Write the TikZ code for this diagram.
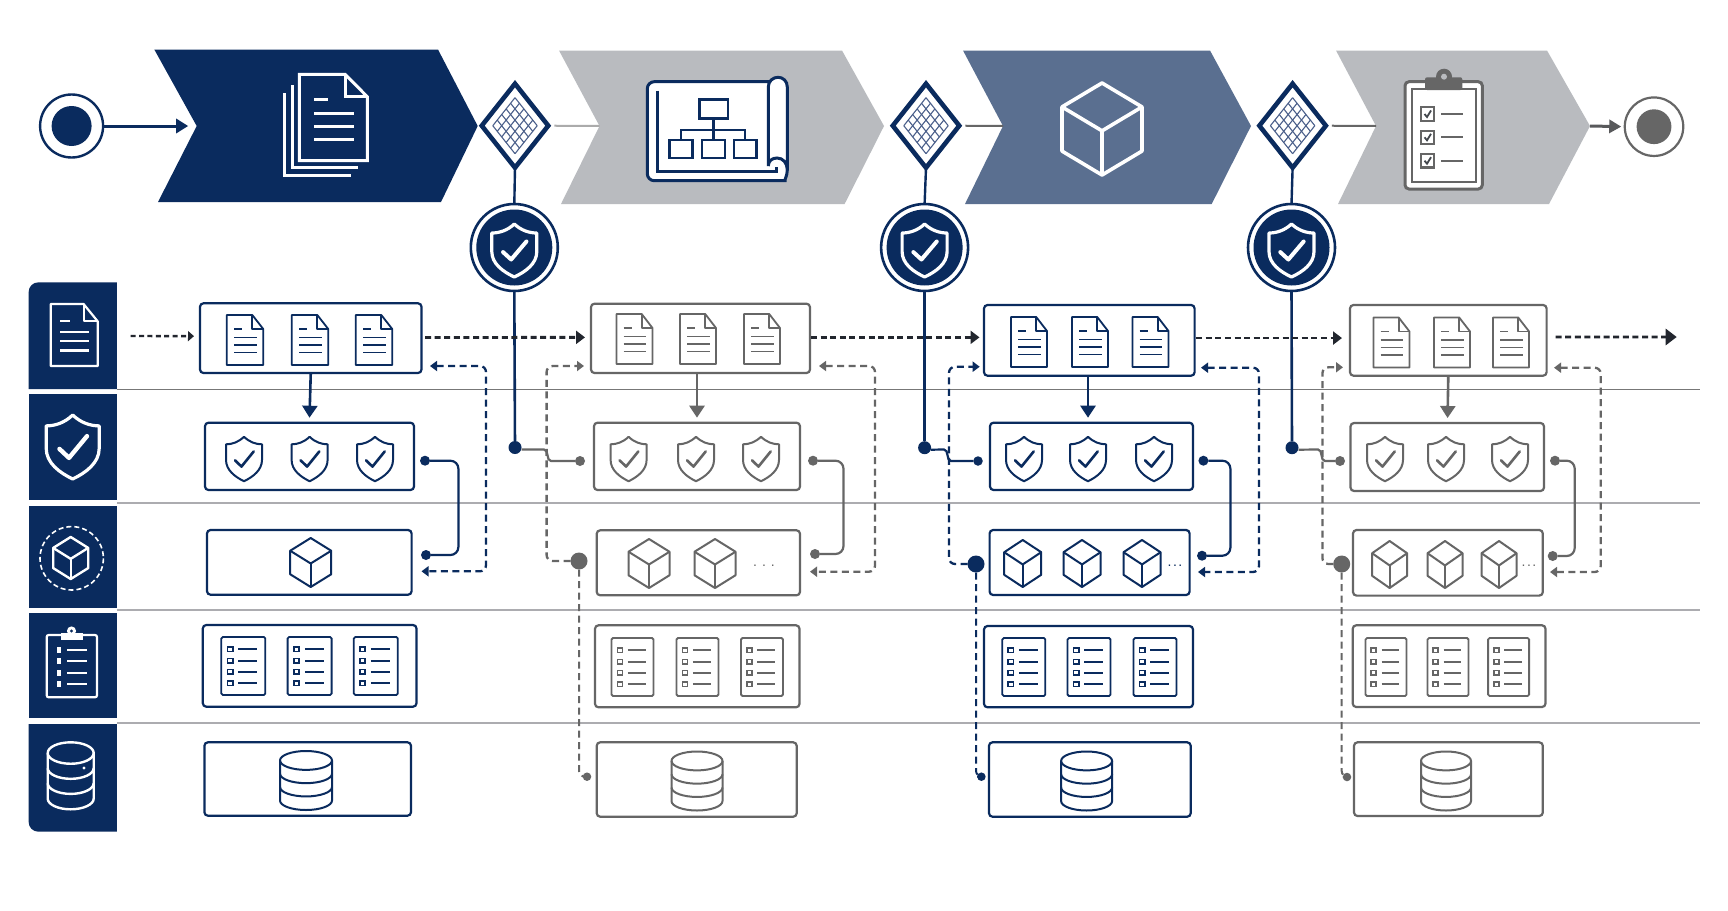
\documentclass[tikz,border=0pt]{standalone}
\usepackage{fontspec}
\setmainfont{Liberation Sans}
\usetikzlibrary{arrows.meta,shapes.geometric}
\definecolor{nv}{HTML}{0A2B5E}
\definecolor{gy}{HTML}{666666}
\definecolor{chgy}{HTML}{B9BBBF}
\definecolor{slate}{HTML}{5A6F90}
\definecolor{ink}{HTML}{22262E}
\definecolor{hatch}{HTML}{4A5F8A}
\definecolor{laneA}{HTML}{777777}
\definecolor{laneB}{HTML}{ACACB0}
\tikzset{
  box/.style={draw,fill=white,line width=2.2pt,rounded corners=3.5pt,inner sep=0pt,outer sep=0pt},
  nbox/.style={box,draw=nv},
  gbox/.style={box,draw=gy},
  flowline/.style={draw=ink,line width=2.8pt,dash pattern=on 6pt off 3.6pt,-{Triangle[length=9pt,width=13pt]}},
  drop/.style={line width=2.6pt,-{Triangle[length=12pt,width=15pt]}},
  fb/.style={line width=2.3pt,dash pattern=on 7pt off 4.5pt,rounded corners=6pt,{Triangle[length=7pt,width=10pt]}-{Triangle[length=7pt,width=10pt]}},
  fbone/.style={line width=2.3pt,dash pattern=on 7pt off 4.5pt,rounded corners=6pt,-{Triangle[length=7pt,width=10pt]}},
  fbtail/.style={line width=2pt,dash pattern=on 7pt off 4.5pt,rounded corners=6pt},
  linkline/.style={line width=2.2pt,rounded corners=8pt},
  dotn/.style={circle,fill=nv,inner sep=0pt,outer sep=0pt},
  dotg/.style={circle,fill=gy,inner sep=0pt,outer sep=0pt},
  gate/.style={diamond,draw=nv,fill=white,line width=4.6pt,inner sep=0pt,outer sep=0pt,minimum width=66.5pt,minimum height=84pt},
  guard/.style={circle,draw=nv,fill=white,line width=2.6pt,inner sep=0pt,outer sep=0pt,minimum size=87pt},
  orgbox/.style={draw=nv,fill=white,line width=2.4pt,inner sep=0pt,outer sep=0pt},
  laneline/.style={line width=1.6pt},
  more/.style={anchor=base,inner sep=0pt,font=\fontsize{14pt}{14pt}\selectfont},
}
\newcommand\Bx[6]{%
  \pgfmathsetmacro\bxw{#4-#2}\pgfmathsetmacro\bxh{#5-#3}%
  \pgfmathsetmacro\bxc{(#4+#2)/2}\pgfmathsetmacro\bxd{(#5+#3)/2}%
  \node[#6,minimum width=\bxw pt,minimum height=\bxh pt] (#1) at (\bxc,\bxd) {};}
% cx cy w h colour linewidth fill
\newcommand\IcDoc[7]{\begin{scope}[shift={(#1,#2)},x=#3pt,y=-#4pt,draw=#5,line width=#6pt,line join=round]
  \filldraw[fill=#7] (-.5,-.5) -- (.2,-.5) -- (.5,-.22) -- (.5,.5) -- (-.5,.5) -- cycle;
  \draw (.2,-.5) -- (.2,-.22) -- (.5,-.22);
  \draw (-.3,-.22) -- (-.08,-.22);
  \draw (-.3,-.05) -- (.32,-.05);
  \draw (-.3,.1) -- (.32,.1);
  \draw (-.3,.25) -- (.32,.25);
\end{scope}}
\newcommand\IcShield[8]{\begin{scope}[shift={(#1,#2)},x=#3pt,y=-#4pt,line join=round]
  \draw[draw=#5,fill=#8,line width=#6pt] (0,-.5) .. controls (.15,-.38) and (.33,-.33) .. (.5,-.33) -- (.5,.02) .. controls (.5,.25) and (.25,.4) .. (0,.5) .. controls (-.25,.4) and (-.5,.25) .. (-.5,.02) -- (-.5,-.33) .. controls (-.33,-.33) and (-.15,-.38) .. (0,-.5) -- cycle;
  \draw[draw=#5,line width=#7pt,line cap=round] (-.25,.03) -- (-.07,.17) -- (.27,-.17);
\end{scope}}
\newcommand\IcCube[6]{\begin{scope}[shift={(#1,#2)},x=#3pt,y=-#4pt,draw=#5,line width=#6pt,line join=round]
  \draw (0,-.5) -- (.5,-.24) -- (.5,.24) -- (0,.5) -- (-.5,.24) -- (-.5,-.24) -- cycle;
  \draw (-.5,-.24) -- (0,.02) -- (.5,-.24);
  \draw (0,.02) -- (0,.5);
\end{scope}}
\newcommand\ListRow[2]{\draw[line width=1.7pt] (-.36,#1-.04) rectangle (-.24,#1+.04);
  \draw[line width=#2pt] (-.11,#1) -- (.32,#1);}
\newcommand\IcList[6]{\begin{scope}[shift={(#1,#2)},x=#3pt,y=-#4pt,draw=#5,line width=#6pt]
  \filldraw[fill=white,rounded corners=1.5pt] (-.5,-.5) rectangle (.5,.5);
  \ListRow{-.29}{#6}\ListRow{-.09}{#6}\ListRow{.1}{#6}\ListRow{.295}{#6}
\end{scope}}
\newcommand\DbArc[1]{\draw (-.5,#1) .. controls (-.5,#1+.088) and (-.276,#1+.16) .. (0,#1+.16) .. controls (.276,#1+.16) and (.5,#1+.088) .. (.5,#1);}
\newcommand\IcDb[7]{\begin{scope}[shift={(#1,#2)},x=#3pt,y=-#4pt,draw=#5,line width=#6pt]
  \filldraw[fill=#7] (-.5,-.34) -- (-.5,.34) .. controls (-.5,.428) and (-.276,.5) .. (0,.5) .. controls (.276,.5) and (.5,.428) .. (.5,.34) -- (.5,-.34) .. controls (.5,-.428) and (.276,-.5) .. (0,-.5) .. controls (-.276,-.5) and (-.5,-.428) .. (-.5,-.34) -- cycle;
  \DbArc{-.34}\DbArc{-.115}\DbArc{.11}
\end{scope}}
\newcommand\Chev[9]{\fill[#1] (#2,#8) -- (#3,#8) -- (#4,126) -- (#5,#9) -- (#6,#9) -- (#7,126) -- cycle;}
\newcommand\Hatch[2]{\begin{scope}[shift={(#1,#2)},draw=hatch,line width=1.1pt]
  \foreach \i in {0,...,5}{
    \draw ({-22.2+\i/5*22.2},{-\i/5*28}) -- ({\i/5*22.2},{28-\i/5*28});
    \draw ({-22.2+\i/5*22.2},{\i/5*28}) -- ({\i/5*22.2},{-28+\i/5*28});
  }
\end{scope}}
\begin{document}
\begin{tikzpicture}[x=1pt,y=-1pt]
\useasboundingbox (0,0) rectangle (1728,910);
\fill[white] (0,0) rectangle (1728,910);
% lane rules
\draw[laneline,draw=laneA] (117,389.5) -- (1700,389.5);
\draw[laneline,draw=laneB] (117,503) -- (1700,503);
\draw[laneline,draw=laneB] (117,610) -- (1700,610);
\draw[laneline,draw=laneB] (117,723) -- (1700,723);
% lane headers
\fill[nv] (28.6,389) -- (28.6,292.3) .. controls (28.6,286.5) and (33,282.3) .. (38.6,282.3) -- (116.8,282.3) -- (116.8,389) -- cycle;
\fill[nv] (28.6,394) rectangle (116.8,500);
\fill[nv] (28.6,505.7) rectangle (116.8,607.7);
\fill[nv] (28.6,613) rectangle (116.8,718);
\fill[nv] (28.6,724) -- (28.6,821.7) .. controls (28.6,827.5) and (33,831.7) .. (38.6,831.7) -- (116.8,831.7) -- (116.8,724) -- cycle;
% lane icons
\IcDoc{74.2}{335}{47}{62}{white}{2.2}{nv}
\IcShield{72.7}{447}{53}{64}{white}{3.2}{4.4}{nv}
\draw[white,line width=1.6pt,dash pattern=on 5pt off 3pt] (71.7,558.3) circle[radius=31.7];
\IcCube{70.7}{558}{35}{42}{white}{2.4}
\begin{scope}[white]
  \draw[line width=2.2pt,rounded corners=2pt] (46.7,635) rectangle (97,697.3);
  \fill (60.7,633) rectangle (82.7,639.5);
  \fill (71.5,631) circle[radius=4.6];
  \fill[nv] (71.5,631) circle[radius=1.6];
  \foreach \yy in {650,661,672.7,684}{
    \fill (56.5,\yy-2.8) rectangle (61,\yy+2.8);
    \draw[line width=2pt] (67,\yy) -- (87,\yy);
  }
\end{scope}
\IcDb{70.7}{775.8}{46}{67}{white}{2.4}{nv}
\fill[white] (84,768) circle[radius=1.6];
% chevrons
\Chev{nv}{154.3}{438}{477.7}{441}{158}{196.7}{49.5}{202}
\Chev{chgy}{559}{842}{884}{844.6}{561}{599.5}{50.5}{204}
\Chev{slate}{963}{1210}{1251}{1211.7}{965}{1003}{50.5}{204}
\Chev{chgy}{1336}{1547}{1590}{1549}{1338}{1376}{50.5}{204}
\coordinate (ch1n) at (196.7,126); \coordinate (ch2n) at (599.5,126);
\coordinate (ch3n) at (1003,126); \coordinate (ch4n) at (1376,126);
\coordinate (ch4t) at (1590,126);
% big doc icon
\begin{scope}[white,line width=3pt,line join=miter]
  \draw (284,93.3) -- (284,175.3) -- (350.7,175.3);
  \draw (292,85) -- (292,167.3) -- (358.3,167.3);
  \filldraw[fill=nv] (299.3,74.3) -- (345,74.3) -- (367.3,96.7) -- (367.3,160.7) -- (299.3,160.7) -- cycle;
  \draw (345,74.3) -- (345,96.7) -- (367.3,96.7);
  \draw (314,99.3) -- (327.7,99.3);
  \draw (314,113.7) -- (353.7,113.7);
  \draw (314,126.3) -- (353.7,126.3);
  \draw (314,139.7) -- (353.7,139.7);
\end{scope}
% blueprint icon
\fill[white,rounded corners=6pt] (647.3,81.7) rectangle (787.3,180.7);
\fill[white] (777.8,87) circle[radius=9.5];
\draw[nv,line width=3pt,rounded corners=7pt] (770,81.7) -- (647.3,81.7) -- (647.3,180.7) -- (778,180.7) [sharp corners] .. controls (784,180.7) and (787.3,176) .. (787.3,170) -- (787.3,87) .. controls (787.3,81) and (783,77.3) .. (778,77.3) .. controls (773,77.3) and (768.3,81) .. (768.3,87) -- (768.3,166) .. controls (768.3,161) and (772,158) .. (777,158) .. controls (783,158) and (787.3,163) .. (787.3,170);
\draw[nv,line width=2.6pt] (657.7,90.7) -- (657.7,171.7) -- (776.7,171.7) -- (776.7,167);
\node[orgbox,minimum width=28.4pt,minimum height=19pt] (orgtop) at (713.5,108.8) {};
\node[orgbox,minimum width=23pt,minimum height=17.7pt] (orgl) at (680.8,148.9) {};
\node[orgbox,minimum width=23.3pt,minimum height=17.7pt] (orgm) at (713.5,148.9) {};
\node[orgbox,minimum width=22.7pt,minimum height=17.7pt] (orgr) at (745.3,148.9) {};
\coordinate (orgbar) at (713.5,130);
\draw[nv,line width=2.2pt] (orgtop.south) -- (orgm.north);
\draw[nv,line width=2.2pt] (orgl.north) |- (orgbar) -| (orgr.north);
% big cube
\IcCube{1102}{129}{80}{92}{white}{3.6}
% big clipboard
\filldraw[draw=gy,fill=white,line width=3pt,rounded corners=4pt] (1405,81.7) rectangle (1482.3,189);
\draw[gy,line width=2pt] (1411.7,89.3) rectangle (1476,181.7);
\fill[gy] (1444,76.7) circle[radius=8];
\fill[gy,rounded corners=2pt] (1425,77.3) rectangle (1462.3,90);
\fill[chgy] (1444,76.7) circle[radius=3];
\foreach \yy in {114,137.3,160.7}{
  \draw[gy,line width=2.2pt] (1421,\yy-6.7) rectangle (1434.3,\yy+6.7);
  \draw[ink!85,line width=1.8pt] (1424.5,\yy) -- (1427,\yy+3) -- (1431,\yy-3.5);
  \draw[gy,line width=2.2pt] (1441,\yy) -- (1463.3,\yy);
}
% start / end events
\node[circle,draw=nv,fill=white,line width=2.4pt,inner sep=0pt,outer sep=0pt,minimum size=63pt] (start) at (71.6,126) {};
\fill[nv] (start.center) circle[radius=20];
\node[circle,draw=gy,fill=white,line width=2.2pt,inner sep=0pt,outer sep=0pt,minimum size=58.5pt] (finish) at (1654,126.7) {};
\fill[gy] (finish.center) circle[radius=17.4];
\draw[nv,line width=3pt,shorten >=8.5pt,-{Triangle[length=12pt,width=14pt]}] (start.east) -- (ch1n);
\draw[gy!80!ink,line width=3pt,shorten >=3.5pt,-{Triangle[length=12pt,width=13pt]}] (ch4t) -- (finish.west);
% gateways
\node[gate] (gw1) at (515,125.7) {};
\node[gate] (gw2) at (926,125.7) {};
\node[gate] (gw3) at (1292.6,125.7) {};
\Hatch{515}{125.7}\Hatch{926}{125.7}\Hatch{1292.6}{125.7}
\draw[gy!55,line width=2pt,shorten <=6pt] (gw1.east) -- (ch2n);
\draw[gy,line width=2pt,shorten <=6pt] (gw2.east) -- (ch3n);
\draw[gy,line width=2pt,shorten <=6pt] (gw3.east) -- (ch4n);
% guards
\node[guard] (gd1) at (514.3,247.5) {};
\node[guard] (gd2) at (924.6,247.5) {};
\node[guard] (gd3) at (1291.5,247.5) {};
\foreach \cc in {gd1,gd2,gd3}{\fill[nv] (\cc.center) circle[radius=38];}
\IcShield{514.3}{250.5}{45}{53}{white}{3.2}{4}{nv}
\IcShield{924.6}{250.5}{45}{53}{white}{3.2}{4}{nv}
\IcShield{1291.5}{250.5}{45}{53}{white}{3.2}{4}{nv}
\draw[nv,line width=2.4pt] (gw1.south) -- (gd1.north);
\draw[nv,line width=2.4pt] (gw2.south) -- (gd2.north);
\draw[nv,line width=2.4pt] (gw3.south) -- (gd3.north);
% boxes column 1
\Bx{aa}{200}{303.3}{421.5}{373}{nbox}
\Bx{ab}{205}{422.7}{414}{490}{nbox}
\Bx{ac}{207}{530}{411.6}{594.7}{nbox}
\Bx{ad}{202.8}{625}{416.5}{706.7}{nbox}
\Bx{ae}{204.4}{742.3}{411}{815.7}{nbox}
% column 2
\Bx{ba}{591}{303.7}{810}{373}{gbox}
\Bx{bb}{594}{422.7}{800}{490}{gbox}
\Bx{bc}{596.7}{530.3}{800}{595.3}{gbox}
\Bx{bd}{595}{625.3}{799.5}{707.3}{gbox}
\Bx{be}{596.7}{742.3}{796.7}{816.7}{gbox}
% column 3
\Bx{ca}{984}{305}{1194.6}{375.7}{nbox}
\Bx{cb}{990}{422.7}{1193}{490}{nbox}
\Bx{cc}{989.6}{530}{1189.6}{595}{nbox}
\Bx{cd}{984}{626}{1193}{707.3}{nbox}
\Bx{ce}{989}{742.3}{1190.7}{816.7}{nbox}
% column 4
\Bx{da}{1350}{305}{1546.6}{375.7}{gbox}
\Bx{db}{1350.5}{423}{1544}{491}{gbox}
\Bx{dc}{1353}{530}{1542.8}{595.6}{gbox}
\Bx{dd}{1352.7}{625.3}{1545.5}{707}{gbox}
\Bx{de}{1354}{742.3}{1542.8}{816}{gbox}
% icons row 1
\foreach \xx in {245,310,374}{\IcDoc{\xx}{340}{36.5}{50}{nv}{1.8}{white}}
\foreach \xx in {634.5,698,762}{\IcDoc{\xx}{339}{36}{50}{gy}{1.8}{white}}
\foreach \xx in {1029,1090,1150.5}{\IcDoc{\xx}{342}{36}{50}{nv}{1.8}{white}}
\foreach \xx in {1391.5,1452,1511}{\IcDoc{\xx}{342.5}{36}{50}{gy}{1.8}{white}}
% icons row 2
\foreach \xx in {244,309.6,375}{\IcShield{\xx}{459}{36}{44.5}{nv}{2}{2.6}{white}}
\foreach \xx in {628.6,696,761}{\IcShield{\xx}{459}{36}{44.5}{gy}{2}{2.6}{white}}
\foreach \xx in {1024,1088,1154}{\IcShield{\xx}{459}{36}{44.5}{nv}{2}{2.6}{white}}
\foreach \xx in {1385,1446,1510}{\IcShield{\xx}{459}{36}{44.5}{gy}{2}{2.6}{white}}
% icons row 3
\IcCube{310.7}{562.5}{41}{49}{nv}{2}
\foreach \xx in {649,715}{\IcCube{\xx}{563.5}{41}{49}{gy}{2}}
\foreach \xx in {1022.7,1082,1142}{\IcCube{\xx}{563.5}{37}{47}{nv}{2}}
\foreach \xx in {1389.6,1445,1499}{\IcCube{\xx}{564.5}{35}{47}{gy}{2}}
\node[more,text=gy] (moreb) at (764,566) {.\hspace{5pt}.\hspace{5pt}.};
\node[more,text=nv] (morec) at (1175,566) {.\hspace{1.5pt}.\hspace{1.5pt}.};
\node[more,text=gy] (mored) at (1529,566) {.\hspace{1.5pt}.\hspace{1.5pt}.};
% icons row 4
\foreach \xx in {243.3,309.6,375.8}{\IcList{\xx}{666}{44}{58}{nv}{1.8}}
\foreach \xx in {632.5,697.5,762}{\IcList{\xx}{667}{42}{58}{gy}{1.8}}
\foreach \xx in {1023.8,1089,1155}{\IcList{\xx}{667}{43}{58}{nv}{1.8}}
\foreach \xx in {1386,1448,1508.6}{\IcList{\xx}{667}{41}{58}{gy}{1.8}}
% icons row 5
\IcDb{306}{780.5}{52}{59}{nv}{2}{white}
\IcDb{697}{781}{51}{59}{gy}{2}{white}
\IcDb{1086.6}{781}{51}{59}{nv}{2}{white}
\IcDb{1446}{781}{50}{59}{gy}{2}{white}
% junction dots
\node[dotn,minimum size=13pt] (ja) at (515,447.5) {};
\node[dotn,minimum size=13pt] (jb) at (924.6,447.7) {};
\node[dotn,minimum size=13pt] (jc) at (1292,447.7) {};
\node[dotg,minimum size=10pt] (pb) at (580,461) {};
\node[dotn,minimum size=9.5pt] (pc) at (978,461) {};
\node[dotg,minimum size=10pt] (pd) at (1340,461) {};
\node[dotn,minimum size=10pt] (sa1) at (425,460.7) {};
\node[dotn,minimum size=10pt] (sa2) at (426,555) {};
\node[dotg,minimum size=10pt] (sb1) at (813,460.7) {};
\node[dotg,minimum size=10pt] (sb2) at (815,554) {};
\node[dotn,minimum size=10pt] (sc1) at (1203.4,460.7) {};
\node[dotn,minimum size=10pt] (sc2) at (1202,555.7) {};
\node[dotg,minimum size=10pt] (sd1) at (1555,460.7) {};
\node[dotg,minimum size=10pt] (sd2) at (1552.7,556) {};
\node[dotg,minimum size=17pt] (bb1) at (579,561) {};
\node[dotn,minimum size=17pt] (bc1) at (976,564) {};
\node[dotg,minimum size=17pt] (bd1) at (1341.7,564) {};
\node[dotg,minimum size=8.5pt] (eb) at (587,776.7) {};
\node[dotn,minimum size=8.5pt] (ec) at (981.4,776.7) {};
\node[dotg,minimum size=8.5pt] (ed) at (1347,777) {};
% guard stems
\draw[nv,line width=2.6pt] (gd1.south) -- (ja);
\draw[nv,line width=2.6pt] (gd2.south) -- (jb);
\draw[nv,line width=2.6pt] (gd3.south) -- (jc);
% junction to row 2
\draw[gy,line width=2.2pt] ([yshift=-2pt]ja.east) -- (544,449.5) .. controls (549,449.5) and (546,461) .. (551,461) -- (pb);
\draw[nv,line width=2.2pt] ([yshift=-2pt]jb.east) -- (944,449.5) .. controls (949,449.5) and (946,461) .. (951,461) -- (pc);
\draw[gy,line width=2.2pt] ([yshift=-2pt]jc.east) -- (1318,449.5) .. controls (1323,449.5) and (1320,461) .. (1325,461) -- (pd);
% row 1 flow
\coordinate (inlet) at (130.6,336);
\coordinate (outlet) at (1676.7,337);
\draw[ink,line width=2.4pt,dash pattern=on 5pt off 3.4pt,-{Triangle[length=6pt,width=10pt]},shorten >=6pt] (inlet) -- ([yshift=2pt]aa.west);
\draw[flowline,shorten <=3.5pt,shorten >=6pt] ([yshift=.7pt]aa.east) -- ([yshift=1pt]ba.west);
\draw[flowline,shorten <=1pt,shorten >=4.5pt] ([yshift=1pt]ba.east) -- ([yshift=3pt]ca.west);
\draw[flowline,shorten <=1.5pt,shorten >=8pt] ([yshift=2.3pt]ca.east) -- ([yshift=2.3pt]da.west);
\draw[flowline,shorten <=9pt,-{Triangle[length=11pt,width=16pt]}] ([yshift=3.3pt]da.east) -- (outlet);
% row 1 to row 2
\draw[nv,drop] (aa.south) -- ([yshift=5pt]ab.north);
\draw[gy,drop] ([xshift=-3.5pt]ba.south) -- ([xshift=0pt,yshift=5pt]bb.north);
\draw[nv,drop] ([xshift=-1.3pt]ca.south) -- ([xshift=-3.5pt,yshift=5pt]cb.north);
\draw[gy,drop] (da.south) -- ([xshift=.3pt,yshift=5pt]db.north);
% row 2 to row 3 solid links
\coordinate (ra) at (458.4,500); \coordinate (rb) at (843.5,500);
\coordinate (rc) at (1230.4,500); \coordinate (rd) at (1574.7,500);
\draw[nv,linkline] (sa1) -- (sa1 -| ra) -- (sa2 -| ra) -- (sa2);
\draw[gy,linkline] (sb1) -- (sb1 -| rb) -- (sb2 -| rb) -- (sb2);
\draw[nv,linkline] (sc1) -- (sc1 -| rc) -- (sc2 -| rc) -- (sc2);
\draw[gy,linkline] (sd1) -- (sd1 -| rd) -- (sd2 -| rd) -- (sd2);
% feedback right
\coordinate (fa1) at (430,366); \coordinate (fa2) at (486,366); \coordinate (fa3) at (421.5,571.3);
\coordinate (fb1) at (819,366); \coordinate (fb2) at (875,366); \coordinate (fb3) at (810,571.7);
\coordinate (fc1) at (1201,367.7); \coordinate (fc2) at (1259,367.7); \coordinate (fc3) at (1198,572);
\coordinate (fd1) at (1554,367.7); \coordinate (fd2) at (1600.7,367.7); \coordinate (fd3) at (1550,572);
\draw[nv,fb] (fa1) -- (fa2) -- (fa2 |- fa3) -- (fa3);
\draw[gy,fb] (fb1) -- (fb2) -- (fb2 |- fb3) -- (fb3);
\draw[nv,fb] (fc1) -- (fc2) -- (fc2 |- fc3) -- (fc3);
\draw[gy,fb] (fd1) -- (fd2) -- (fd2 |- fd3) -- (fd3);
% feedback left
\coordinate (lb) at (546.6,366); \coordinate (lbt) at (584,366);
\coordinate (lc) at (949,366.7); \coordinate (lct) at (979.7,366.7);
\coordinate (ld) at (1322.4,367.3); \coordinate (ldt) at (1343,367.3);
\draw[gy,fbone] (bb1) -- (bb1 -| lb) -- (lb) -- (lbt);
\draw[nv,fbone] (bc1) -- (bc1 -| lc) -- (lc) -- (lct);
\draw[gy,fbone] (bd1) -- (bd1 -| ld) -- (ld) -- (ldt);
% down to row 5
\draw[gy,fbtail] (bb1) -- (bb1 |- eb) -- (eb);
\draw[nv,fbtail] (bc1) -- (bc1 |- ec) -- (ec);
\draw[gy,fbtail] (bd1) -- (bd1 |- ed) -- (ed);
\end{tikzpicture}
\end{document}
